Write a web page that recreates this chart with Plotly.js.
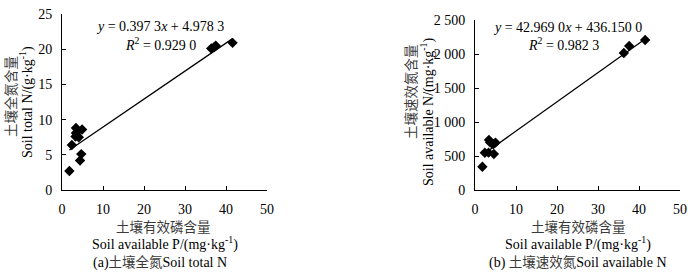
<!DOCTYPE html>
<html><head><meta charset="utf-8">
<script src="https://cdn.plot.ly/plotly-3.0.1.min.js"></script>
<style>html,body{margin:0;padding:0;background:#fff}#c{width:700px;height:272px}</style>
</head><body><div id="c"></div>
<script>
// (a) Soil available P vs Soil total N
const aP = [1.8, 2.4, 3.4, 3.4, 3.3, 4.1, 4.9, 4.7, 4.4, 36.4, 37.1, 37.5, 41.6];
const aN = [2.7, 6.4, 8.8, 8.1, 7.6, 7.5, 8.6, 5.1, 4.2, 20.1, 20.3, 20.5, 20.9];
const aSlope = 0.3973, aIntercept = 4.9783;
// (b) Soil available P vs Soil available N
const bP = [1.8, 2.4, 3.3, 3.4, 3.7, 4.1, 4.5, 4.6, 5.0, 36.3, 37.6, 41.5];
const bN = [343, 548, 549, 735, 700, 686, 676, 529, 696, 2015, 2118, 2206];
const bSlope = 42.969, bIntercept = 436.15;
const xTicks = [0, 10, 20, 30, 40, 50];
const aYTicks = [0, 5, 10, 15, 20, 25];
const bYTicks = [0, 500, 1000, 1500, 2000, 2500];
const bYTickText = ['0', '500', '1 000', '1 500', '2 000', '2 500'];

const lineX = (arr) => [Math.min(...arr), Math.max(...arr)];
const aLX = lineX(aP), bLX = lineX(bP);

const serif = 'Liberation Serif, Times New Roman, serif';
const fnt = {family: serif, size: 14, color: '#000'};
const tickFnt = {family: serif, size: 14, color: '#000'};
const cjk = (s) => '<span style="font-family:\'Noto Sans CJK SC\';font-size:13.5px;color:#3a3a3a">' + s + '</span>';

const traces = [
  {x: aLX, y: aLX.map(v => aSlope * v + aIntercept), mode: 'lines', line: {color: '#000', width: 1.3}, xaxis: 'x', yaxis: 'y', hoverinfo: 'skip'},
  {x: aP, y: aN, mode: 'markers', marker: {symbol: 'diamond', size: 8, color: '#000'}, xaxis: 'x', yaxis: 'y'},
  {x: bLX, y: bLX.map(v => bSlope * v + bIntercept), mode: 'lines', line: {color: '#000', width: 1.3}, xaxis: 'x2', yaxis: 'y2', hoverinfo: 'skip'},
  {x: bP, y: bN, mode: 'markers', marker: {symbol: 'diamond', size: 8, color: '#000'}, xaxis: 'x2', yaxis: 'y2'}
];

const axBase = {showgrid: false, zeroline: false, showline: true, linecolor: '#000', linewidth: 1,
  ticks: 'inside', ticklen: 4, tickcolor: '#000', tickfont: tickFnt, fixedrange: true, ticklabelstandoff: 6};

function ann(x, y, text, angle) {
  const a = {xref: 'paper', yref: 'paper', x: x/700, y: 1 - y/272, text: text, showarrow: false,
    font: fnt, xanchor: 'center', yanchor: 'middle'};
  if (angle !== undefined) a.textangle = angle;
  return a;
}

const layout = {
  width: 700, height: 272, margin: {l: 0, r: 0, t: 0, b: 0},
  paper_bgcolor: '#fff', plot_bgcolor: '#fff', showlegend: false, font: fnt,
  xaxis: Object.assign({}, axBase, {domain: [62/700, 267/700], range: [0, 50], tickvals: xTicks, anchor: 'y'}),
  yaxis: Object.assign({}, axBase, {domain: [82/272, 258/272], range: [0, 25], tickvals: aYTicks, anchor: 'x'}),
  xaxis2: Object.assign({}, axBase, {domain: [475/700, 680/700], range: [0, 50], tickvals: xTicks, anchor: 'y2'}),
  yaxis2: Object.assign({}, axBase, {domain: [82/272, 252/272], range: [0, 2500], tickvals: bYTicks, ticktext: bYTickText, anchor: 'x2'}),
  annotations: [
    ann(160, 27, '<i>y</i> = 0.397 3<i>x</i> + 4.978 3'),
    ann(160, 44, '<i>R</i><sup>2</sup> = 0.929 0'),
    ann(567, 28, '<i>y</i> = 42.969 0<i>x</i> + 436.150 0'),
    ann(563, 44, '<i>R</i><sup>2</sup> = 0.982 3'),
    ann(163, 226, cjk('土壤有效磷含量')),
    ann(165, 243, 'Soil available P/(mg·kg<sup>-1</sup>)'),
    ann(160, 261, '(a)' + cjk('土壤全氮') + 'Soil total N'),
    ann(578, 226, cjk('土壤有效磷含量')),
    ann(578, 243, 'Soil available P/(mg·kg<sup>-1</sup>)'),
    ann(578, 261, '(b) ' + cjk('土壤速效氮') + 'Soil available N'),
    ann(10, 97, cjk('土壤全氮含量'), -90),
    ann(26, 102, 'Soil total N/(g·kg<sup>-1</sup>)', -90),
    ann(410, 92, cjk('土壤速效氮含量'), -90),
    ann(427, 112, 'Soil available N/(mg·kg<sup>-1</sup>)', -90)
  ]
};
Plotly.newPlot('c', traces, layout, {displayModeBar: false, staticPlot: true});
</script></body></html>
